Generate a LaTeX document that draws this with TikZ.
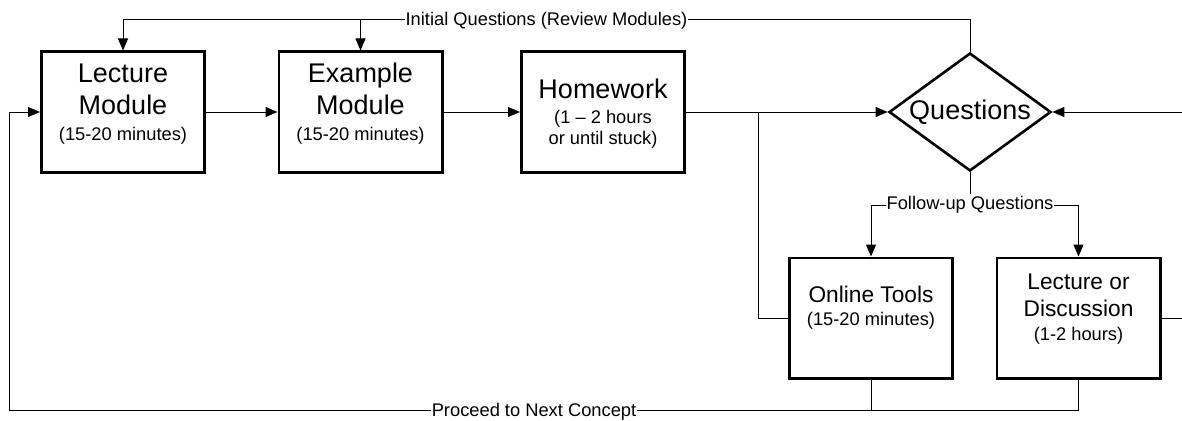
\documentclass[tikz,border=0pt]{standalone}
\usepackage{fontspec}
\setmainfont{Liberation Sans}
\usetikzlibrary{arrows.meta,shapes.geometric,calc}
\begin{document}
\begin{tikzpicture}[x=1pt,y=-1pt,
  box/.style={draw,line width=2.6pt,minimum width=163.4pt,minimum height=120.4pt,inner sep=0pt},
  bigtxt/.style={font=\fontsize{27}{30}\selectfont,anchor=base,inner sep=0pt},
  midtxt/.style={font=\fontsize{22.7}{26}\selectfont,anchor=base,inner sep=0pt},
  smalltxt/.style={font=\fontsize{18.3}{21}\selectfont,anchor=base,inner sep=0pt},
  conn/.style={line width=1pt},
  arr/.style={conn,-{Triangle[length=12pt,width=10pt]}},
  lbl/.style={font=\fontsize{18.3}{21}\selectfont,anchor=base,fill=white,inner xsep=1pt,inner ysep=2pt}
]
\useasboundingbox (0,0) rectangle (1182,420);

% boxes
\node[box] (lec) at (123,112) {};
\node[box] (ex) at (360.5,112) {};
\node[box] (hw) at (603,112) {};
\node[draw,diamond,aspect=1.37,line width=2.6pt,minimum width=162pt,minimum height=118pt,inner sep=0pt,
      font=\fontsize{27}{30}\selectfont] (q) at (970,112) {Questions};
\node[box] (ot) at (871,318) {};
\node[box] (ld) at (1078.5,318) {};

% box texts
\node[bigtxt] (lecA) at (123,82.5) {Lecture};
\node[bigtxt] (lecB) at (123,114.5) {Module};
\node[smalltxt] (lecC) at (123,140.5) {(15-20 minutes)};
\node[bigtxt] (exA) at (360.5,82.5) {Example};
\node[bigtxt] (exB) at (360.5,114.5) {Module};
\node[smalltxt] (exC) at (360.5,140.5) {(15-20 minutes)};
\node[bigtxt] (hwA) at (603,98) {Homework};
\node[smalltxt] (hwB) at (603,123.3) {(1 – 2 hours};
\node[smalltxt] (hwC) at (603,144) {or until stuck)};
\node[midtxt] (otA) at (871,302.7) {Online Tools};
\node[smalltxt] (otB) at (871,325) {(15-20 minutes)};
\node[midtxt] (ldA) at (1078.5,289) {Lecture or};
\node[midtxt] (ldB) at (1078.5,316) {Discussion};
\node[smalltxt] (ldC) at (1078.5,340.7) {(1-2 hours)};

% helper coordinates
\coordinate (topy) at (0,20);
\coordinate (fuy) at (0,205);
\coordinate (boty) at (0,410);
\coordinate (br) at (758,112);
\coordinate (bl) at (9,410);
\coordinate (rin) at (1182,112);
\coordinate (rout) at (1182,318);

% connectors
\draw[arr] (q.north) |- (lec.north |- topy) -- (lec.north);
\draw[arr] (ex.north |- topy) -- (ex.north);
\draw[arr] (lec.east) -- (ex.west);
\draw[arr] (ex.east) -- (hw.west);
\draw[arr] (hw.east) -- (q.west);
\draw[conn] (br) |- (ot.west);
\draw[conn] (q.south) -- (q.south |- fuy);
\draw[arr] (q.south |- fuy) -| (ot.north);
\draw[arr] (q.south |- fuy) -| (ld.north);
\draw[arr] (rin) -- (q.east);
\draw[conn] (ld.east) -- (rout);
\draw[conn] (ot.south) -- (ot.south |- boty);
\draw[arr] (ld.south) |- (bl) |- (lec.west);

% labels
\node[lbl] (iq) at (546.5,26) {Initial Questions (Review Modules)};
\node[lbl] (fq) at (970,209.5) {Follow-up Questions};
\node[lbl] (pc) at (534,416) {Proceed to Next Concept};
\end{tikzpicture}
\end{document}
